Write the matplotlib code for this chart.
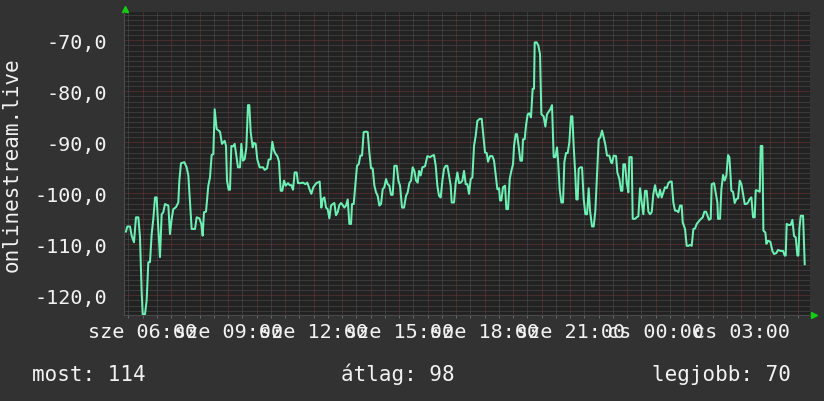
import numpy as np
import matplotlib
matplotlib.use("Agg")
import matplotlib.pyplot as plt
from matplotlib import transforms

# signal readings, time in hours from midnight of the first day (24+ = next day)
times = [
    5.414, 5.460, 5.554, 5.613, 5.694, 5.765, 5.847, 5.905, 5.964, 5.999,
    6.081, 6.139, 6.198, 6.256, 6.315, 6.373, 6.432, 6.490, 6.549, 6.607,
    6.666, 6.724, 6.783, 6.900, 6.958, 7.017, 7.075, 7.169, 7.250, 7.286,
    7.344, 7.461, 7.543, 7.602, 7.660, 7.719, 7.836, 7.894, 7.988, 8.058,
    8.105, 8.151, 8.222, 8.303, 8.362, 8.420, 8.479, 8.526, 8.596, 8.713,
    # 08:45 - 12:15
    8.783, 8.877, 8.924, 8.959, 9.017, 9.064, 9.111, 9.170, 9.228, 9.287,
    9.345, 9.415, 9.462, 9.521, 9.579, 9.638, 9.696, 9.743, 9.790, 9.860,
    9.907, 9.965, 10.024, 10.105, 10.223, 10.281, 10.363, 10.421, 10.492, 10.550,
    10.609, 10.667, 10.726, 10.784, 10.843, 10.901, 10.960, 11.018, 11.100, 11.159,
    11.217, 11.276, 11.334, 11.404, 11.451, 11.545, 11.627, 11.709, 11.779, 11.861,
    11.919, 11.989, 12.095, 12.212,
    # 12:15 - 15:40
    12.270, 12.317, 12.376, 12.434, 12.493, 12.551, 12.610, 12.668, 12.727, 12.785,
    12.844, 12.902, 12.961, 13.019, 13.078, 13.136, 13.195, 13.253, 13.312, 13.347,
    13.405, 13.464, 13.522, 13.581, 13.639, 13.698, 13.756, 13.838, 13.897, 13.955,
    14.014, 14.072, 14.131, 14.189, 14.248, 14.306, 14.365, 14.423, 14.482, 14.540,
    14.599, 14.657, 14.716, 14.774, 14.833, 14.915, 14.973, 15.032, 15.102, 15.172,
    15.242, 15.301, 15.359, 15.418, 15.476, 15.535, 15.593, 15.652,
    # 15:40 - 19:05
    15.699, 15.757, 15.816, 15.909, 15.991, 16.085, 16.167, 16.225, 16.284, 16.342,
    16.401, 16.459, 16.518, 16.576, 16.635, 16.693, 16.752, 16.810, 16.845, 16.927,
    16.986, 17.044, 17.103, 17.161, 17.220, 17.278, 17.337, 17.395, 17.454, 17.512,
    17.571, 17.629, 17.688, 17.746, 17.828, 17.898, 17.957, 18.015, 18.074, 18.120,
    18.190, 18.273, 18.331, 18.390, 18.448, 18.507, 18.542, 18.588, 18.647, 18.717,
    18.764, 18.822, 18.881, 18.939, 18.998, 19.033, 19.092,
    # 19:05 - 22:30
    19.138, 19.196, 19.255, 19.313, 19.349, 19.407, 19.453, 19.512, 19.570, 19.629,
    19.687, 19.734, 19.758, 19.828, 19.886, 19.945, 19.992, 20.073, 20.132, 20.190,
    20.249, 20.307, 20.366, 20.424, 20.483, 20.541, 20.577, 20.635, 20.694, 20.752,
    20.799, 20.857, 20.916, 20.974, 21.033, 21.080, 21.126, 21.185, 21.220, 21.267,
    21.302, 21.361, 21.419, 21.478, 21.536, 21.595, 21.653, 21.700, 21.770, 21.829,
    21.887, 21.946, 22.004, 22.063, 22.121, 22.180, 22.238, 22.297, 22.379, 22.437,
    22.472, 22.531,
    # 22:35 - 02:00
    22.613, 22.659, 22.730, 22.788, 22.835, 22.870, 22.929, 22.987, 23.046, 23.081,
    23.163, 23.198, 23.280, 23.338, 23.397, 23.455, 23.514, 23.572, 23.631, 23.689,
    23.748, 23.806, 23.865, 23.923, 23.982, 24.040, 24.099, 24.157, 24.216, 24.274,
    24.333, 24.391, 24.450, 24.508, 24.567, 24.625, 24.684, 24.742, 24.801, 24.859,
    24.918, 24.953, 25.035, 25.093, 25.152, 25.210, 25.269, 25.327, 25.386, 25.444,
    25.503, 25.561, 25.655, 25.713, 25.772, 25.819, 25.877, 25.936, 25.971,
    # 02:00 - 05:15
    26.053, 26.099, 26.170, 26.193, 26.263, 26.310, 26.369, 26.427, 26.486, 26.544,
    26.591, 26.626, 26.661, 26.719, 26.778, 26.837, 26.895, 26.954, 27.012, 27.071,
    27.129, 27.188, 27.246, 27.305, 27.363, 27.422, 27.480, 27.515, 27.597, 27.656,
    27.691, 27.749, 27.784, 27.855, 27.890, 27.948, 28.030, 28.100, 28.159, 28.240,
    28.299, 28.393, 28.475, 28.533, 28.568, 28.603, 28.674, 28.744, 28.802, 28.861,
    28.919, 28.978, 29.013, 29.048, 29.095, 29.177, 29.235,
]

values = [
    -107.5, -106.5, -106.5, -108.3, -109.6, -104.7, -104.7, -108.6, -119.4, -123.7,
    -123.7, -121.0, -113.5, -113.5, -108.0, -105.0, -100.8, -100.8, -107.0, -112.5,
    -104.1, -103.7, -102.1, -102.4, -108.0, -105.0, -103.1, -102.7, -101.8, -97.5,
    -94.1, -93.9, -94.9, -96.5, -101.8, -107.0, -107.0, -104.7, -104.9, -106.0,
    -108.3, -103.7, -103.6, -98.5, -96.9, -92.5, -92.3, -83.5, -87.4, -87.9,
    -90.3, -89.7, -90.7, -97.5, -99.3, -99.3, -90.7, -90.8, -90.3, -92.6,
    -94.9, -94.9, -90.3, -93.6, -93.3, -91.0, -82.7, -82.7, -88.0, -91.0,
    -90.1, -90.3, -93.4, -94.9, -94.9, -95.4, -95.1, -93.4, -93.3, -89.9,
    -91.6, -92.3, -92.7, -93.8, -99.5, -99.5, -97.5, -98.5, -98.0, -98.4,
    -98.4, -99.3, -95.9, -95.9, -98.0, -98.0, -97.9, -98.2, -97.9, -99.3,
    -100.1, -98.8, -98.0, -97.7,
    -102.8, -101.1, -100.8, -102.8, -103.1, -104.9, -102.4, -102.1, -101.9, -104.3,
    -103.7, -102.3, -101.9, -102.3, -102.8, -102.4, -101.2, -106.0, -106.0, -102.1,
    -102.1, -98.4, -94.6, -94.3, -92.6, -92.6, -88.0, -87.9, -88.0, -92.0,
    -95.1, -95.1, -98.5, -99.8, -100.5, -102.4, -102.1, -99.2, -98.8, -97.2,
    -98.2, -98.5, -100.3, -100.3, -94.6, -94.6, -97.5, -98.5, -102.8, -102.8,
    -100.5, -99.8, -98.0, -97.5, -94.9, -95.6, -97.5, -97.9,
    -95.6, -96.5, -94.9, -94.7, -92.7, -92.9, -92.6, -92.5, -94.6, -98.5,
    -100.5, -100.8, -97.5, -95.2, -94.6, -94.6, -96.5, -98.5, -101.8, -101.8,
    -97.9, -95.9, -98.0, -97.9, -97.5, -95.6, -98.2, -98.2, -100.1, -97.2,
    -96.9, -90.7, -88.7, -85.8, -85.4, -85.4, -88.7, -92.0, -92.1, -93.8,
    -92.7, -92.7, -93.6, -96.5, -99.2, -99.0, -101.4, -101.4, -98.8, -98.5,
    -103.1, -103.1, -97.2, -95.6, -94.3, -90.7, -88.4,
    -88.4, -90.8, -93.6, -93.6, -89.4, -89.4, -86.7, -84.5, -84.3, -85.1,
    -79.5, -79.5, -70.4, -70.4, -71.0, -72.7, -84.5, -84.9, -86.9, -84.5,
    -84.0, -83.5, -82.7, -92.9, -92.9, -91.0, -93.4, -99.2, -101.8, -101.8,
    -93.9, -92.1, -92.1, -90.0, -84.9, -84.9, -90.7, -96.5, -101.2, -101.2,
    -95.2, -94.9, -94.9, -101.1, -104.1, -104.1, -99.0, -103.4, -106.5, -106.5,
    -103.4, -96.5, -89.4, -89.0, -87.7, -89.0, -90.5, -92.6, -92.6, -93.9,
    -94.1, -92.6,
    -92.7, -95.9, -97.2, -99.5, -99.5, -94.3, -94.3, -97.9, -99.8, -92.9,
    -92.9, -105.0, -105.0, -104.7, -104.5, -99.0, -101.8, -104.1, -99.5, -99.5,
    -103.6, -104.1, -103.7, -100.1, -98.4, -100.1, -100.8, -99.3, -100.8, -99.8,
    -98.8, -99.0, -98.0, -97.7, -97.7, -101.8, -103.4, -103.4, -103.7, -102.4,
    -102.4, -105.7, -107.0, -110.3, -110.3, -110.1, -110.3, -107.0, -106.9, -106.0,
    -105.6, -105.2, -104.7, -103.6, -103.6, -104.3, -105.2, -105.0, -98.2,
    -98.0, -99.5, -101.8, -105.0, -105.0, -99.2, -96.4, -97.5, -96.5, -92.5,
    -92.9, -95.9, -99.5, -99.7, -101.9, -101.1, -101.0, -97.5, -98.2, -100.1,
    -102.1, -102.1, -101.8, -101.1, -100.8, -104.7, -104.7, -99.4, -99.5, -99.7,
    -90.7, -90.7, -107.3, -107.7, -109.9, -109.3, -109.5, -111.3, -111.9, -111.7,
    -111.1, -111.3, -111.3, -112.2, -112.2, -106.0, -106.2, -106.2, -105.2, -108.4,
    -108.6, -112.2, -112.2, -106.9, -104.4, -104.4, -113.9,
]

label_hours = [6, 9, 12, 15, 18, 21, 24, 27]
label_texts = ["sze 06:00", "sze 09:00", "sze 12:00", "sze 15:00",
               "sze 18:00", "sze 21:00", "cs 00:00", "cs 03:00"]
ytick_vals = [-120, -110, -100, -90, -80, -70]
ytick_texts = ["-120,0", "-110,0", "-100,0", "-90,0", "-80,0", "-70,0"]
legend_items = ["most: 114", "átlag: 98", "legjobb: 70"]
series_name = "onlinestream.live"

BG = "#323232"
PLOT_BG = "#222222"
LINE = "#6cf0b4"
TXT = "#f2f2f2"
MAJOR = "#733636"
MINOR = "#525252"
ARROW = "#10d010"
FONT = "DejaVu Sans Mono"

plt.rcParams["font.family"] = FONT

fig = plt.figure(figsize=(8.24, 4.02), dpi=100, facecolor=BG)
ax = fig.add_axes([124 / 824, 86.3 / 402, 685.7 / 824, 302.4 / 402])
ax.set_facecolor(PLOT_BG)

ax.plot(times, values, color=LINE, lw=1.45, zorder=3)

ax.set_xlim(5.344, 29.41)
ax.set_ylim(-123.8, -64.5)

# hourly red grid, labels every 3 hours
hours = np.arange(6, 30)
ax.set_xticks(hours)
ax.set_xticklabels([label_texts[label_hours.index(h)] if h in label_hours else ""
                    for h in hours])
ax.set_xticks(np.arange(5.5, 29.5, 1.0), minor=True)
ax.set_yticks(ytick_vals)
ax.set_yticklabels(ytick_texts)
ax.set_yticks(np.arange(-123, -64, 1), minor=True)

dot = (0, (1, 1))
ax.grid(which="major", color=MAJOR, lw=0.72, ls=dot, zorder=1)
ax.grid(which="minor", color=MINOR, lw=0.72, ls=dot, zorder=1)
ax.set_axisbelow(True)

ax.tick_params(axis="x", which="both", colors="#6a6a6a", length=2, width=0.7,
               labelcolor=TXT, labelsize=14.5, pad=3)
ax.tick_params(axis="y", which="both", colors="#6a6a6a", length=0,
               labelcolor=TXT, labelsize=14.5, pad=12)

for s in ["top", "right"]:
    ax.spines[s].set_visible(False)
for s in ["left", "bottom"]:
    ax.spines[s].set_color("#4a4a4a")
    ax.spines[s].set_linewidth(0.8)

# rrdtool style axis arrows
up = transforms.offset_copy(ax.transAxes, fig=fig, x=1, y=3, units="dots")
ax.plot([0], [1], marker="^", ms=4.2, color=ARROW, transform=up, clip_on=False)
rt = transforms.offset_copy(ax.transAxes, fig=fig, x=4, y=-0.5, units="dots")
ax.plot([1], [0], marker=">", ms=4.2, color=ARROW, transform=rt, clip_on=False)

fig.text(12 / 824, 1 - 164.5 / 402, series_name, rotation=90, ha="center",
         va="center", color=TXT, fontsize=15)

base = 1 - 381.5 / 402
fig.text(32 / 824, base, legend_items[0], ha="left", va="baseline", color=TXT, fontsize=15)
fig.text(341 / 824, base, legend_items[1], ha="left", va="baseline", color=TXT, fontsize=15)
fig.text(791 / 824, base, legend_items[2], ha="right", va="baseline", color=TXT, fontsize=15)

fig.savefig("out.png", dpi=100, facecolor=BG)
